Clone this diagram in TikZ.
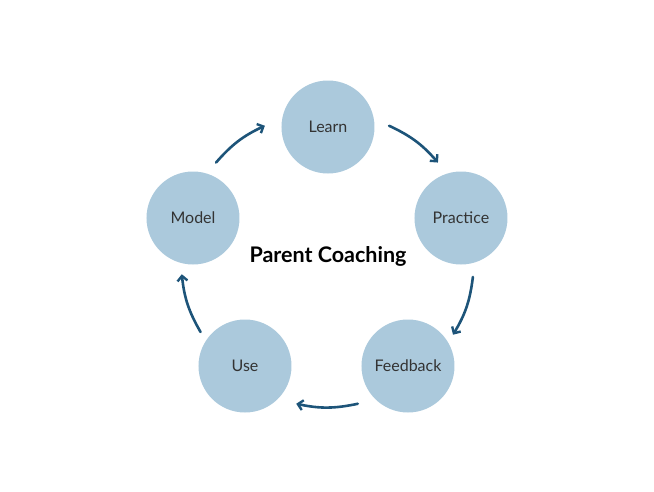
\documentclass[tikz,border=0pt]{standalone}
\usepackage{fontspec}
\setmainfont{Lato}
\usepackage{tikz}
\usetikzlibrary{arrows.meta}

\definecolor{stepfill}{HTML}{ABC9DC}
\definecolor{cyclearrow}{HTML}{1D5479}
\definecolor{labeltext}{HTML}{333333}

\begin{document}
\begin{tikzpicture}[
    x=1pt, y=1pt,
    stage/.style={circle, fill=stepfill, minimum size=93pt, inner sep=0pt,
                  text=labeltext, font=\fontsize{16}{19}\selectfont},
    title/.style={font=\fontsize{21.5}{25}\selectfont\bfseries, text=black},
    cyc/.style={-{Straight Barb[length=5pt,width=10pt,line width=2.4pt]},
                line width=2.6pt, draw=cyclearrow, line cap=round},
]
\useasboundingbox (-327,-232) rectangle (327,259);

% Centre of the cycle
\coordinate (hub) at (0,0);

% Stage circles around the hub
\node[stage] (learn)    at (1,132)     {Learn};
\node[stage] (practice) at (134,41)    {Practice};
\node[stage] (feedback) at (81,-107)   {Feedback};
\node[stage] (use)      at (-82,-107)  {Use};
\node[stage] (model)    at (-134,41)   {Model};

\node[title] (coach) at (1,3) {Parent Coaching};

% Arc end points between neighbouring stages
\coordinate (ml-a) at (139:147);  \coordinate (ml-b) at (115:147);
\coordinate (lp-a) at (65:147);   \coordinate (lp-b) at (41:147);
\coordinate (pf-a) at (-7:147);   \coordinate (pf-b) at (-31:147);
\coordinate (fu-a) at (-78:148);  \coordinate (fu-b) at (-102:148);
\coordinate (um-a) at (210:146);  \coordinate (um-b) at (186:146);

% Clockwise arrows
\draw[cyc] (ml-a) to[bend left=12] (ml-b);
\draw[cyc] (lp-a) to[bend left=12] (lp-b);
\draw[cyc] (pf-a) to[bend left=12] (pf-b);
\draw[cyc] (fu-a) to[bend left=12] (fu-b);
\draw[cyc] (um-a) to[bend left=12] (um-b);
\end{tikzpicture}
\end{document}
